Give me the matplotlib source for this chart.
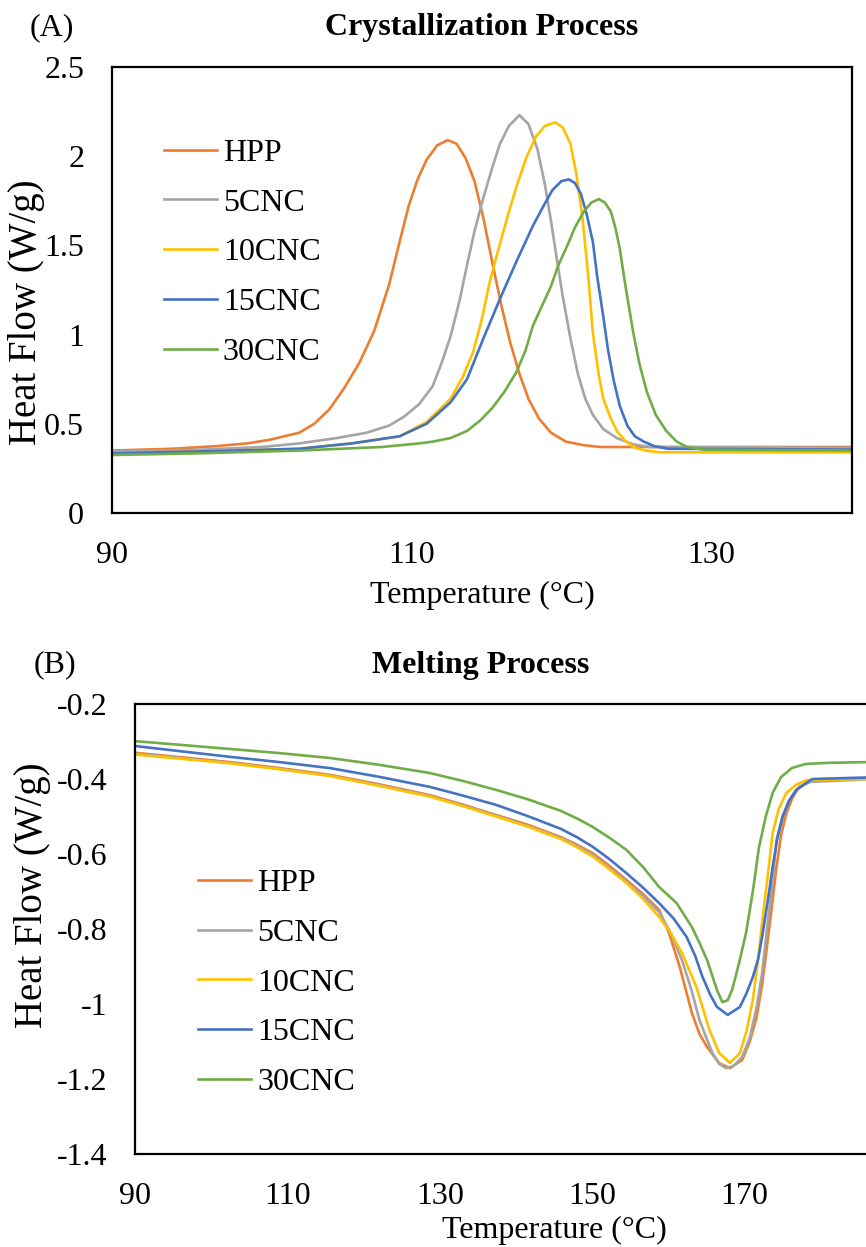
import matplotlib
matplotlib.use("Agg")
import matplotlib.pyplot as plt

plt.rcParams['font.family'] = ['Liberation Serif', 'DejaVu Serif']
plt.rcParams['axes.unicode_minus'] = False

series = ['HPP', '5CNC', '10CNC', '15CNC', '30CNC']
colors = ['#ED7D31', '#A5A5A5', '#FFC000', '#4472C4', '#70AD47']

# (A) crystallization: temperature (C) and heat flow (W/g)
cry_t = {
    'HPP': [90, 94, 97, 99, 100.5, 101.5, 102.5, 103.5, 104.5, 105.5, 106.5, 107.5, 108.5, 109.2,
            109.8, 110.4, 111, 111.7, 112.4, 113, 113.6, 114.2, 114.8, 115.4, 116, 116.6, 117.2,
            117.8, 118.5, 119.3, 120.3, 121.5, 122.6, 139.4],
    '5CNC': [90, 96, 100, 102.5, 105, 107, 108.5, 109.5, 110.5, 111.4, 112, 112.6, 113.2, 113.7,
             114.2, 114.8, 115.4, 115.9, 116.5, 117.2, 117.8, 118.4, 118.9, 119.3, 119.7, 120.1,
             120.6, 121.1, 121.6, 122.1, 122.8, 123.7, 124.8, 125.9, 139.4],
    '10CNC': [90, 96, 102.5, 106, 109.2, 111, 112.6, 113.4, 114.1, 114.7, 115.2, 115.8, 116.4, 117,
              117.7, 118.3, 118.9, 119.6, 120.1, 120.6, 121.0, 121.4, 121.8, 122.1, 122.5, 122.8,
              123.3, 123.7, 124.2, 124.8, 125.6, 126.6, 139.4],
    '15CNC': [90, 96, 102.5, 106, 109.2, 111, 112.6, 113.7, 114.8, 115.9, 117.0, 118.1, 118.8,
              119.4, 120.0, 120.5, 120.9, 121.3, 121.7, 122.1, 122.4, 122.8, 123.1, 123.5, 123.9,
              124.4, 124.9, 125.5, 126.2, 127.1, 139.4],
    '30CNC': [90, 96, 102.5, 108, 110.5, 111.4, 112.6, 113.7, 114.6, 115.4, 116.2, 117.0, 117.6,
              118.1, 118.7, 119.3, 119.8, 120.4, 120.9, 121.5, 122.0, 122.5, 122.9, 123.3, 123.6,
              123.9, 124.3, 124.8, 125.2, 125.7, 126.3, 127.0, 127.7, 128.4, 129.5, 139.4],
}
cry_v = {
    'HPP': [0.35, 0.36, 0.375, 0.39, 0.41, 0.43, 0.45, 0.50, 0.58, 0.70, 0.84, 1.02, 1.28, 1.52,
            1.72, 1.87, 1.98, 2.06, 2.09, 2.07, 1.99, 1.86, 1.65, 1.40, 1.16, 0.95, 0.78, 0.64,
            0.53, 0.45, 0.40, 0.38, 0.37, 0.37],
    '5CNC': [0.345, 0.355, 0.37, 0.39, 0.42, 0.45, 0.49, 0.54, 0.61, 0.71, 0.84, 0.99, 1.19, 1.39,
             1.58, 1.77, 1.94, 2.07, 2.17, 2.23, 2.18, 2.04, 1.84, 1.64, 1.42, 1.21, 0.98, 0.78,
             0.64, 0.55, 0.47, 0.42, 0.385, 0.37, 0.365],
    '10CNC': [0.335, 0.345, 0.36, 0.39, 0.43, 0.51, 0.64, 0.76, 0.90, 1.09, 1.29, 1.48, 1.66, 1.83,
              2.00, 2.11, 2.17, 2.19, 2.16, 2.07, 1.90, 1.66, 1.32, 1.01, 0.77, 0.64, 0.53, 0.46,
              0.41, 0.37, 0.35, 0.34, 0.34],
    '15CNC': [0.335, 0.345, 0.36, 0.39, 0.43, 0.50, 0.62, 0.75, 0.98, 1.20, 1.41, 1.61, 1.72,
              1.81, 1.86, 1.87, 1.85, 1.79, 1.67, 1.52, 1.32, 1.10, 0.92, 0.74, 0.60, 0.49, 0.43,
              0.40, 0.375, 0.36, 0.355],
    '30CNC': [0.325, 0.335, 0.35, 0.37, 0.39, 0.40, 0.42, 0.46, 0.52, 0.59, 0.68, 0.79, 0.91,
              1.05, 1.16, 1.27, 1.39, 1.50, 1.60, 1.69, 1.74, 1.76, 1.74, 1.69, 1.60, 1.48, 1.26,
              1.01, 0.84, 0.68, 0.55, 0.46, 0.40, 0.37, 0.355, 0.35],
}

# (B) melting
mel_t = {
    'HPP': [90, 96, 102.5, 109, 115.6, 122, 128.7, 133, 137.4, 141.7, 145.9, 148, 150.1, 152.3,
            154.5, 156.7, 158.8, 160.1, 161.5, 163.1, 164.1, 165.1, 166.7, 168.1, 169.7, 170.7,
            171.6, 172.3, 172.9, 173.6, 174.2, 174.8, 175.5, 176.3, 177.2, 178.5, 179.8, 186, 200],
    '5CNC': [90, 96, 102.5, 109, 115.6, 122, 128.7, 133, 137.4, 141.7, 145.9, 148, 150.1, 152.3,
             154.5, 156.7, 158.8, 160.3, 161.8, 163, 164.1, 165, 165.8, 166.7, 167.6, 168.6, 169.7,
             170.7, 171.6, 172.3, 172.9, 173.6, 174.2, 175, 175.9, 177, 178.5, 186, 200],
    '10CNC': [90, 96, 102.5, 109, 115.6, 122, 128.7, 133, 137.4, 141.7, 145.9, 148, 150.1, 152.3,
              154.5, 156.7, 158.8, 160.3, 161.8, 163.7, 165.4, 166.7, 168.1, 169.4, 170.3, 171.1,
              171.8, 172.4, 173.1, 173.7, 174.5, 175.5, 176.8, 178.2, 186, 200],
    '15CNC': [90, 96, 102.5, 109, 115.6, 122, 128.7, 133, 137.4, 141.7, 145.9, 148, 150.1, 152.3,
              154.5, 156.7, 158.8, 160.7, 162.4, 163.5, 164.5, 165.5, 166.4, 167.8, 169.4, 170.3,
              171.1, 171.8, 172.4, 173.1, 173.7, 174.3, 175, 175.8, 176.8, 178.9, 186, 200],
    '30CNC': [90, 96, 102.5, 109, 115.6, 122, 128.7, 133, 137.4, 141.7, 145.9, 148, 150.1, 152.3,
              154.5, 156.7, 158.8, 161.1, 163.1, 164.1, 165.1, 166.4, 167.1, 167.8, 168.4, 169.3,
              170.2, 171.1, 171.9, 172.8, 173.7, 174.8, 176.2, 178, 180.8, 186, 200],
}
mel_v = {
    'HPP': [-0.33, -0.342, -0.355, -0.371, -0.389, -0.414, -0.443, -0.468, -0.496, -0.523, -0.555,
            -0.575, -0.598, -0.632, -0.669, -0.707, -0.749, -0.811, -0.901, -1.024, -1.08, -1.115,
            -1.158, -1.171, -1.149, -1.10, -1.035, -0.95, -0.856, -0.74, -0.635, -0.55, -0.491,
            -0.45, -0.421, -0.408, -0.403, -0.398, -0.397],
    '5CNC': [-0.332, -0.344, -0.357, -0.373, -0.391, -0.416, -0.445, -0.47, -0.498, -0.526, -0.557,
             -0.578, -0.602, -0.637, -0.673, -0.712, -0.755, -0.81, -0.883, -0.96, -1.043, -1.09,
             -1.131, -1.16, -1.171, -1.165, -1.141, -1.09, -1.008, -0.92, -0.811, -0.69, -0.563,
             -0.50, -0.456, -0.425, -0.408, -0.401, -0.40],
    '10CNC': [-0.335, -0.346, -0.358, -0.374, -0.392, -0.418, -0.447, -0.472, -0.50, -0.528, -0.56,
              -0.582, -0.607, -0.641, -0.677, -0.72, -0.768, -0.81, -0.864, -0.955, -1.069, -1.131,
              -1.157, -1.131, -1.07, -0.989, -0.88, -0.768, -0.65, -0.544, -0.48, -0.437, -0.415,
              -0.403, -0.40, -0.40],
    '15CNC': [-0.312, -0.326, -0.341, -0.355, -0.371, -0.394, -0.421, -0.444, -0.469, -0.50,
              -0.533, -0.555, -0.581, -0.614, -0.651, -0.69, -0.731, -0.772, -0.821, -0.87, -0.928,
              -0.975, -1.008, -1.029, -1.008, -0.97, -0.928, -0.88, -0.811, -0.72, -0.635, -0.56,
              -0.501, -0.46, -0.429, -0.40, -0.396, -0.395],
    '30CNC': [-0.299, -0.309, -0.32, -0.331, -0.344, -0.362, -0.384, -0.405, -0.429, -0.455,
              -0.485, -0.505, -0.528, -0.557, -0.589, -0.635, -0.688, -0.731, -0.795, -0.837,
              -0.883, -0.963, -0.995, -0.99, -0.961, -0.89, -0.811, -0.70, -0.583, -0.50, -0.437,
              -0.395, -0.371, -0.36, -0.357, -0.355, -0.355],
}

W, H = 866, 1247
fig = plt.figure(figsize=(W / 100, H / 100), dpi=100)


def frac(left, top, right, bottom):
    return [left / W, 1 - bottom / H, (right - left) / W, (bottom - top) / H]


fs = 23

ax1 = fig.add_axes(frac(112, 67, 852, 513))
for name, c in zip(series, colors):
    ax1.plot(cry_t[name], cry_v[name], color=c, lw=1.9, label=name)
ax1.set_xlim(90, 139.4)
ax1.set_ylim(0, 2.5)
ax1.set_xticks([90, 110, 130])
ax1.set_yticks([0, 0.5, 1, 1.5, 2, 2.5])
ax1.set_yticklabels(['0', '0.5', '1', '1.5', '2', '2.5'])
ax1.set_xlabel('Temperature (°C)', fontsize=fs, labelpad=8)
ax1.set_ylabel('Heat Flow (W/g)', fontsize=28)
ax1.yaxis.set_label_coords(-0.09, 0.45)
ax1.legend(loc='upper left', bbox_to_anchor=(0.07, 0.84), frameon=False, fontsize=fs,
           handlelength=1.65, handletextpad=0.2, labelspacing=0.64, borderpad=0, borderaxespad=0)

# the x axis runs on past the right edge of the picture
ax2 = fig.add_axes(frac(135, 704, 973, 1154))
for name, c in zip(series, colors):
    ax2.plot(mel_t[name], mel_v[name], color=c, lw=1.9, label=name)
ax2.set_xlim(90, 200)
ax2.set_ylim(-1.4, -0.2)
ax2.set_xticks([90, 110, 130, 150, 170])
ax2.set_yticks([-1.4, -1.2, -1, -0.8, -0.6, -0.4, -0.2])
ax2.set_yticklabels(['-1.4', '-1.2', '-1', '-0.8', '-0.6', '-0.4', '-0.2'])
ax2.set_xlabel('Temperature (°C)', fontsize=fs, labelpad=4)
ax2.set_ylabel('Heat Flow (W/g)', fontsize=28)
ax2.yaxis.set_label_coords(-0.1, 0.576)
ax2.legend(loc='upper left', bbox_to_anchor=(0.075, 0.634), frameon=False, fontsize=fs,
           handlelength=1.65, handletextpad=0.2, labelspacing=0.64, borderpad=0, borderaxespad=0)

for ax in (ax1, ax2):
    ax.tick_params(length=0, labelsize=fs, pad=20)
    for s in ax.spines.values():
        s.set_linewidth(1.6)
        s.set_color('black')

fig.text(482 / W, 1 - 28 / H, 'Crystallization Process', ha='center', va='center',
         fontsize=23, fontweight='bold')
fig.text(52 / W, 1 - 28 / H, '(A)', ha='center', va='center', fontsize=fs)
fig.text(481 / W, 1 - 665 / H, 'Melting Process', ha='center', va='center',
         fontsize=23, fontweight='bold')
fig.text(55 / W, 1 - 665 / H, '(B)', ha='center', va='center', fontsize=fs)

fig.savefig('out.png', dpi=100)
